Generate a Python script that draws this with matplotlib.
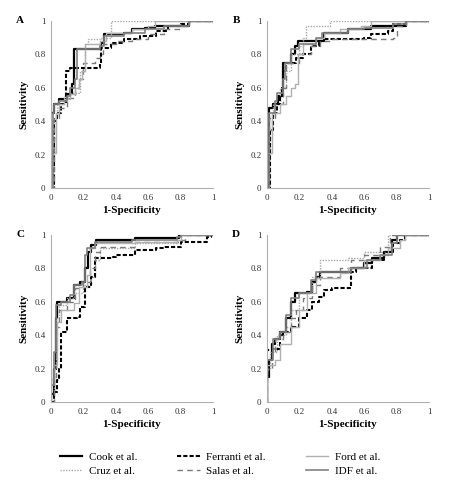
import matplotlib.pyplot as plt

plt.rcParams['font.family'] = ['Liberation Serif', 'DejaVu Serif']

# ROC step points: at each fpr value the tpr rises to the listed value
series_names = ['Cook et al.', 'Cruz et al.', 'Ferranti et al.', 'Salas et al.', 'Ford et al.', 'IDF et al.']
panel_letters = ['A', 'B', 'C', 'D']

# panel A
a_fpr = {
    'Cook et al.': [0, 0, 0.02, 0.05, 0.1, 0.13, 0.14, 0.31, 0.33, 0.45, 0.5, 0.58, 0.64, 0.85, 1],
    'Cruz et al.': [0, 0.01, 0.02, 0.03, 0.04, 0.08, 0.12, 0.18, 0.21, 0.23, 0.3, 0.37, 1],
    'Ferranti et al.': [0, 0.02, 0.04, 0.06, 0.09, 0.12, 0.3, 0.31, 0.37, 0.45, 0.55, 0.65, 0.72, 0.8, 0.85, 1],
    'Salas et al.': [0, 0.02, 0.05, 0.1, 0.15, 0.17, 0.2, 0.27, 0.3, 0.32, 0.4, 0.5, 0.6, 0.7, 0.8, 0.85, 1],
    'Ford et al.': [0, 0, 0.03, 0.05, 0.08, 0.12, 0.15, 0.17, 0.19, 0.21, 0.3, 0.34, 0.5, 0.6, 0.64, 1],
    'IDF et al.': [0, 0.01, 0.02, 0.05, 0.1, 0.12, 0.15, 0.16, 0.3, 0.33, 0.45, 0.58, 0.7, 0.85, 1],
}
a_tpr = {
    'Cook et al.': [0, 0.45, 0.5, 0.53, 0.56, 0.62, 0.83, 0.87, 0.92, 0.93, 0.95, 0.96, 0.97, 1.0, 1.0],
    'Cruz et al.': [0.05, 0.2, 0.3, 0.42, 0.5, 0.55, 0.57, 0.7, 0.86, 0.89, 0.9, 1.0, 1.0],
    'Ferranti et al.': [0, 0.4, 0.45, 0.5, 0.7, 0.72, 0.74, 0.84, 0.87, 0.89, 0.91, 0.94, 0.97, 0.98, 1.0, 1.0],
    'Salas et al.': [0, 0.42, 0.48, 0.54, 0.6, 0.65, 0.75, 0.78, 0.8, 0.86, 0.88, 0.89, 0.92, 0.95, 0.97, 1.0, 1.0],
    'Ford et al.': [0, 0.21, 0.45, 0.5, 0.53, 0.56, 0.6, 0.65, 0.7, 0.86, 0.88, 0.93, 0.95, 0.97, 1.0, 1.0],
    'IDF et al.': [0, 0.45, 0.5, 0.52, 0.55, 0.6, 0.65, 0.83, 0.85, 0.91, 0.93, 0.95, 0.97, 1.0, 1.0],
}

# panel B
b_fpr = {
    'Cook et al.': [0, 0.01, 0.04, 0.07, 0.09, 0.1, 0.15, 0.17, 0.19, 0.35, 0.5, 0.64, 0.86, 1],
    'Cruz et al.': [0, 0.01, 0.02, 0.03, 0.04, 0.08, 0.12, 0.15, 0.2, 0.22, 0.24, 0.39, 1],
    'Ferranti et al.': [0, 0.02, 0.04, 0.06, 0.08, 0.1, 0.12, 0.18, 0.22, 0.27, 0.32, 0.35, 0.6, 0.64, 0.75, 0.78, 0.86, 1],
    'Salas et al.': [0, 0.01, 0.05, 0.1, 0.12, 0.2, 0.27, 0.33, 0.4, 0.78, 0.8, 0.86, 1],
    'Ford et al.': [0, 0, 0.03, 0.08, 0.12, 0.15, 0.17, 0.19, 0.22, 0.3, 0.35, 0.45, 0.58, 0.64, 1],
    'IDF et al.': [0, 0.01, 0.05, 0.06, 0.1, 0.11, 0.15, 0.2, 0.3, 0.34, 0.5, 0.6, 0.78, 0.86, 1],
}
b_tpr = {
    'Cook et al.': [0, 0.48, 0.5, 0.55, 0.6, 0.75, 0.8, 0.85, 0.88, 0.93, 0.95, 0.97, 1.0, 1.0],
    'Cruz et al.': [0.05, 0.2, 0.3, 0.42, 0.5, 0.6, 0.7, 0.8, 0.85, 0.9, 0.97, 1.0, 1.0],
    'Ferranti et al.': [0, 0.35, 0.45, 0.5, 0.55, 0.7, 0.75, 0.78, 0.8, 0.85, 0.88, 0.89, 0.9, 0.92, 0.94, 0.98, 1.0, 1.0],
    'Salas et al.': [0, 0.42, 0.5, 0.6, 0.75, 0.8, 0.85, 0.88, 0.89, 0.9, 0.97, 1.0, 1.0],
    'Ford et al.': [0, 0.21, 0.45, 0.5, 0.55, 0.6, 0.62, 0.8, 0.86, 0.9, 0.93, 0.95, 0.97, 1.0, 1.0],
    'IDF et al.': [0, 0.45, 0.52, 0.57, 0.65, 0.75, 0.83, 0.86, 0.9, 0.93, 0.95, 0.96, 0.98, 1.0, 1.0],
}

# panel C
c_fpr = {
    'Cook et al.': [0, 0, 0.02, 0.03, 0.04, 0.1, 0.14, 0.18, 0.21, 0.23, 0.25, 0.28, 0.52, 0.79, 1],
    'Cruz et al.': [0, 0.02, 0.03, 0.05, 0.1, 0.14, 0.2, 0.25, 0.27, 0.3, 0.52, 0.78, 0.8, 1],
    'Ferranti et al.': [0, 0.02, 0.04, 0.05, 0.06, 0.1, 0.16, 0.18, 0.21, 0.25, 0.27, 0.38, 0.4, 0.52, 0.65, 0.7, 0.8, 0.96, 0.99, 1],
    'Salas et al.': [0, 0.02, 0.03, 0.05, 0.1, 0.15, 0.2, 0.24, 0.27, 0.3, 0.52, 0.8, 0.83, 1],
    'Ford et al.': [0, 0, 0.02, 0.04, 0.06, 0.14, 0.17, 0.22, 0.24, 0.27, 0.52, 0.78, 0.8, 1],
    'IDF et al.': [0, 0, 0.02, 0.03, 0.06, 0.12, 0.14, 0.19, 0.21, 0.22, 0.27, 0.5, 0.78, 0.8, 1],
}
c_tpr = {
    'Cook et al.': [0, 0.05, 0.2, 0.5, 0.6, 0.62, 0.7, 0.72, 0.8, 0.9, 0.94, 0.97, 0.98, 1.0, 1.0],
    'Cruz et al.': [0, 0.2, 0.5, 0.58, 0.62, 0.65, 0.7, 0.75, 0.85, 0.92, 0.95, 0.96, 1.0, 1.0],
    'Ferranti et al.': [0, 0.06, 0.13, 0.2, 0.42, 0.5, 0.51, 0.57, 0.69, 0.75, 0.86, 0.87, 0.88, 0.91, 0.92, 0.93, 0.96, 0.99, 1.0, 1.0],
    'Salas et al.': [0, 0.15, 0.45, 0.55, 0.6, 0.68, 0.72, 0.8, 0.9, 0.93, 0.96, 0.97, 1.0, 1.0],
    'Ford et al.': [0, 0.14, 0.22, 0.48, 0.55, 0.59, 0.69, 0.76, 0.92, 0.95, 0.96, 0.97, 1.0, 1.0],
    'IDF et al.': [0, 0.1, 0.3, 0.58, 0.6, 0.64, 0.7, 0.72, 0.88, 0.92, 0.96, 0.97, 0.99, 1.0, 1.0],
}

# panel D
d_fpr = {
    'Cook et al.': [0, 0, 0.01, 0.03, 0.05, 0.08, 0.12, 0.15, 0.17, 0.25, 0.28, 0.3, 0.33, 0.52, 0.6, 0.65, 0.72, 0.77, 0.8, 1],
    'Cruz et al.': [0, 0, 0.02, 0.06, 0.12, 0.15, 0.2, 0.28, 0.33, 0.5, 0.6, 0.75, 1],
    'Ferranti et al.': [0, 0, 0.03, 0.08, 0.1, 0.15, 0.2, 0.25, 0.28, 0.32, 0.35, 0.4, 0.52, 0.55, 0.65, 0.72, 0.78, 0.82, 0.85, 1],
    'Salas et al.': [0, 0, 0.03, 0.05, 0.1, 0.15, 0.18, 0.22, 0.28, 0.33, 0.45, 0.52, 0.6, 0.7, 0.76, 1],
    'Ford et al.': [0, 0, 0.05, 0.08, 0.15, 0.2, 0.25, 0.3, 0.45, 0.5, 0.6, 0.7, 0.75, 0.82, 0.85, 1],
    'IDF et al.': [0, 0, 0.04, 0.08, 0.12, 0.15, 0.2, 0.27, 0.3, 0.52, 0.62, 0.7, 0.77, 0.8, 1],
}
d_tpr = {
    'Cook et al.': [0, 0.15, 0.25, 0.35, 0.38, 0.42, 0.5, 0.6, 0.65, 0.66, 0.72, 0.75, 0.78, 0.8, 0.83, 0.86, 0.9, 0.97, 1.0, 1.0],
    'Cruz et al.': [0, 0.2, 0.3, 0.4, 0.45, 0.55, 0.65, 0.75, 0.85, 0.86, 0.9, 1.0, 1.0],
    'Ferranti et al.': [0, 0.31, 0.32, 0.4, 0.42, 0.45, 0.5, 0.55, 0.6, 0.63, 0.67, 0.68, 0.78, 0.8, 0.85, 0.9, 0.95, 0.97, 1.0, 1.0],
    'Salas et al.': [0, 0.2, 0.3, 0.38, 0.42, 0.5, 0.55, 0.62, 0.7, 0.75, 0.8, 0.85, 0.88, 0.93, 1.0, 1.0],
    'Ford et al.': [0, 0.22, 0.25, 0.35, 0.45, 0.55, 0.65, 0.74, 0.77, 0.8, 0.85, 0.88, 0.92, 0.97, 1.0, 1.0],
    'IDF et al.': [0, 0.25, 0.38, 0.42, 0.52, 0.62, 0.65, 0.73, 0.78, 0.8, 0.85, 0.88, 0.95, 1.0, 1.0],
}

tick_vals = [0, 0.2, 0.4, 0.6, 0.8, 1]
tick_labels = ['0', '0.2', '0.4', '0.6', '0.8', '1']

styles = {
    'Cook et al.': dict(color='black', lw=1.6, ls='-'),
    'Cruz et al.': dict(color='#a8a8a8', lw=1.0, ls=(0, (1, 1))),
    'Ferranti et al.': dict(color='black', lw=1.5, ls=(0, (2, 1))),
    'Salas et al.': dict(color='#7a7a7a', lw=1.0, ls=(0, (4, 3))),
    'Ford et al.': dict(color='#b0b0b0', lw=1.0, ls='-'),
    'IDF et al.': dict(color='#808080', lw=1.2, ls='-'),
}

fig = plt.figure(figsize=(4.5, 4.9), dpi=100)
positions = [
    [0.1133, 0.6163, 0.36, 0.341],
    [0.5933, 0.6163, 0.36, 0.341],
    [0.1133, 0.1796, 0.36, 0.341],
    [0.5933, 0.1796, 0.36, 0.341],
]
panels = [(a_fpr, a_tpr), (b_fpr, b_tpr), (c_fpr, c_tpr), (d_fpr, d_tpr)]

handles = []
for i, (fpr, tpr) in enumerate(panels):
    ax = fig.add_axes(positions[i])
    for name in series_names:
        h, = ax.step(fpr[name], tpr[name], where='post', label=name, **styles[name])
        if i == 0:
            handles.append(h)
    ax.set_xlim(0, 1)
    ax.set_ylim(0, 1)
    ax.set_xticks(tick_vals)
    ax.set_xticklabels(tick_labels)
    ax.set_yticks(tick_vals)
    ax.set_yticklabels(tick_labels)
    ax.tick_params(length=0, labelsize=6.5, colors='#333333', pad=4)
    for s in ['top', 'right']:
        ax.spines[s].set_visible(False)
    for s in ['left', 'bottom']:
        ax.spines[s].set_color('#b0b0b0')
        ax.spines[s].set_linewidth(0.8)
    ax.set_xlabel('1-Specificity', fontsize=8, fontweight='bold', labelpad=3)
    ax.set_ylabel('Sensitivity', fontsize=8, fontweight='bold', labelpad=4)
    ax.text(-0.19, 1.0, panel_letters[i], transform=ax.transAxes, fontsize=8,
            fontweight='bold', ha='center', va='center')

fig.legend(handles=handles, labels=series_names, ncol=3, loc='center',
           bbox_to_anchor=(0.489, 0.053), frameon=False, fontsize=8,
           handlelength=2.0, columnspacing=3.6, labelspacing=0.4, handletextpad=0.6)

fig.savefig('out.png', dpi=100)
